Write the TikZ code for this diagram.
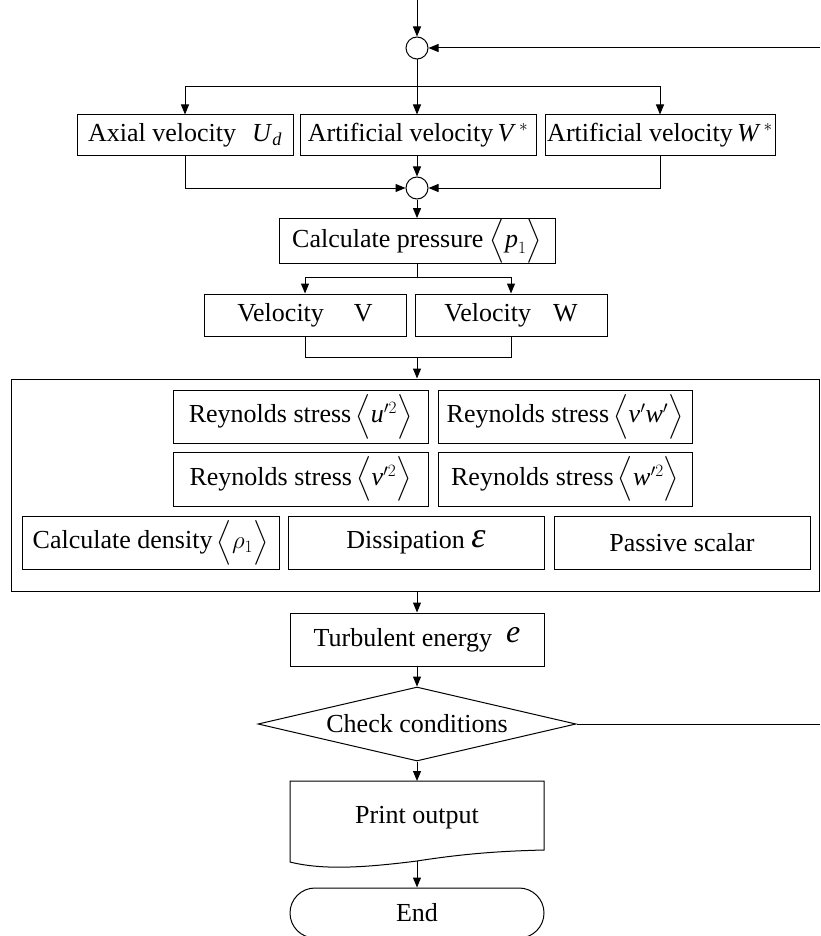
\documentclass[tikz,border=0pt]{standalone}
\usepackage{amsmath}
\usepackage{fontspec}
\setmainfont{Liberation Serif}
\usetikzlibrary{arrows.meta,shapes.geometric,shapes.misc}
\newcommand{\itx}[1]{\text{\textit{#1}}}

\begin{document}
\begin{tikzpicture}[x=1pt,y=-1pt,line width=1pt,
  font=\fontsize{26}{31}\selectfont,
  >={Triangle[length=10pt,width=8pt]},
  box/.style={draw,rectangle,inner sep=0pt},
  sz/.style 2 args={minimum width=#1pt,minimum height=#2pt},
  junction/.style={draw,circle,minimum size=22pt,inner sep=0pt}]
\useasboundingbox (0,0) rectangle (820,936);

% merge points
\node[junction] (c1) at (417,48) {};
\node[junction] (c2) at (417,188) {};

% velocity predictors
\node[box,sz={216}{41}] (ax) at (185,135.5) {Axial velocity\hspace{16pt}$\itx{U}_{\itx{d}}$};
\node[box,sz={236}{41}] (vs) at (418,135.5) {Artificial velocity\,$\itx{V}^{\,*}$};
\node[box,sz={230}{41}] (ws) at (660,135.5) {Artificial velocity\,$\itx{W}^{\,*}$};

% pressure and corrected velocities
\node[box,sz={276}{40}] (press) at (417,241) {Calculate pressure $\Bigl\langle \itx{p}_{1}\Bigr\rangle$};
\node[box,sz={202}{42}] (vv) at (305,315) {Velocity\hspace{30pt}V};
\node[box,sz={192}{42}] (vw) at (511,315) {Velocity\hspace{22pt}W};

% turbulence quantities
\node[box,sz={808}{212}] (group) at (415,485) {};
\node[box,sz={255}{53}] (ruu) at (300.5,416.5) {Reynolds stress\,$\Bigl\langle \itx{u}'^{2}\Bigr\rangle$};
\node[box,sz={254}{53}] (rvw) at (565,416.5) {Reynolds stress\,$\Bigl\langle \itx{v}'\itx{w}'\Bigr\rangle$};
\node[box,sz={255}{54}] (rvv) at (300.5,479) {Reynolds stress\,$\Bigl\langle \itx{v}'^{2}\Bigr\rangle$};
\node[box,sz={254}{54}] (rww) at (565,479) {Reynolds stress\,$\Bigl\langle \itx{w}'^{2}\Bigr\rangle$};
\node[box,sz={257}{53}] (dens) at (150.5,542.5) {Calculate density\,$\Bigl\langle \rho_{1}\Bigr\rangle$};
\node[box,sz={256}{53}] (diss) at (416,542.5) {Dissipation\ \raisebox{1pt}{\fontsize{36}{36}\selectfont\textit{ε}}};
\node[box,sz={256}{53}] (pscal) at (682,542.5) {Passive scalar};

\node[box,sz={254}{53}] (turb) at (417,639.5) {Turbulent energy\hspace{14pt}\raisebox{4pt}{\fontsize{32}{32}\selectfont\textit{e}}};

\node[draw,diamond,shape aspect=4.3,minimum width=318pt,minimum height=74pt,inner sep=0pt] (check) at (417,724) {Check conditions};

% document-shaped output box
\node[inner sep=0pt] (print) at (417,818) {Print output};
\coordinate (pnw) at (290,781);
\coordinate (pne) at (544,781);
\draw (pnw) -- (pne) -- (544,850)
  .. controls (505,851) and (468,853) .. (417,861)
  .. controls (362,868) and (322,870) .. (290,862) -- cycle;
\coordinate (pb) at (417,861);

\node[draw,rounded rectangle,minimum width=254pt,minimum height=50pt,inner sep=0pt] (end) at (417,913) {End};

% free ends
\coordinate (start) at (417,0);
\coordinate (fb) at (820,48);
\coordinate (fbr) at (820,724);
\coordinate (split1) at (417,87);
\coordinate (split2) at (417,277);
\coordinate (join) at (417,357);

% connectors
\draw[->] (start) -- (c1);
\draw[->] (fb) -- (c1);
\draw (c1) -- (split1);
\draw[->] (split1) -- (split1 |- vs.north);
\draw[->] (split1) -| (ax);
\draw[->] (split1) -| (ws);
\draw[->] (ax) |- (c2);
\draw[->] (ws) |- (c2);
\draw[->] (c2 |- vs.south) -- (c2);
\draw[->] (c2) -- (c2 |- press.north);
\draw (c2 |- press.south) -- (split2);
\draw[->] (split2) -| (vv);
\draw[->] (split2) -| (vw);
\draw (vv) |- (join);
\draw (vw) |- (join);
\draw[->] (join) -- (join |- group.north);
\draw[->] (group.south -| turb) -- (turb);
\draw[->] (turb) -- (check);
\draw (check.east) -- (fbr);
\draw[->] (check) -- (pnw -| print);
\draw[->] (pb) -- (end);
\end{tikzpicture}
\end{document}
